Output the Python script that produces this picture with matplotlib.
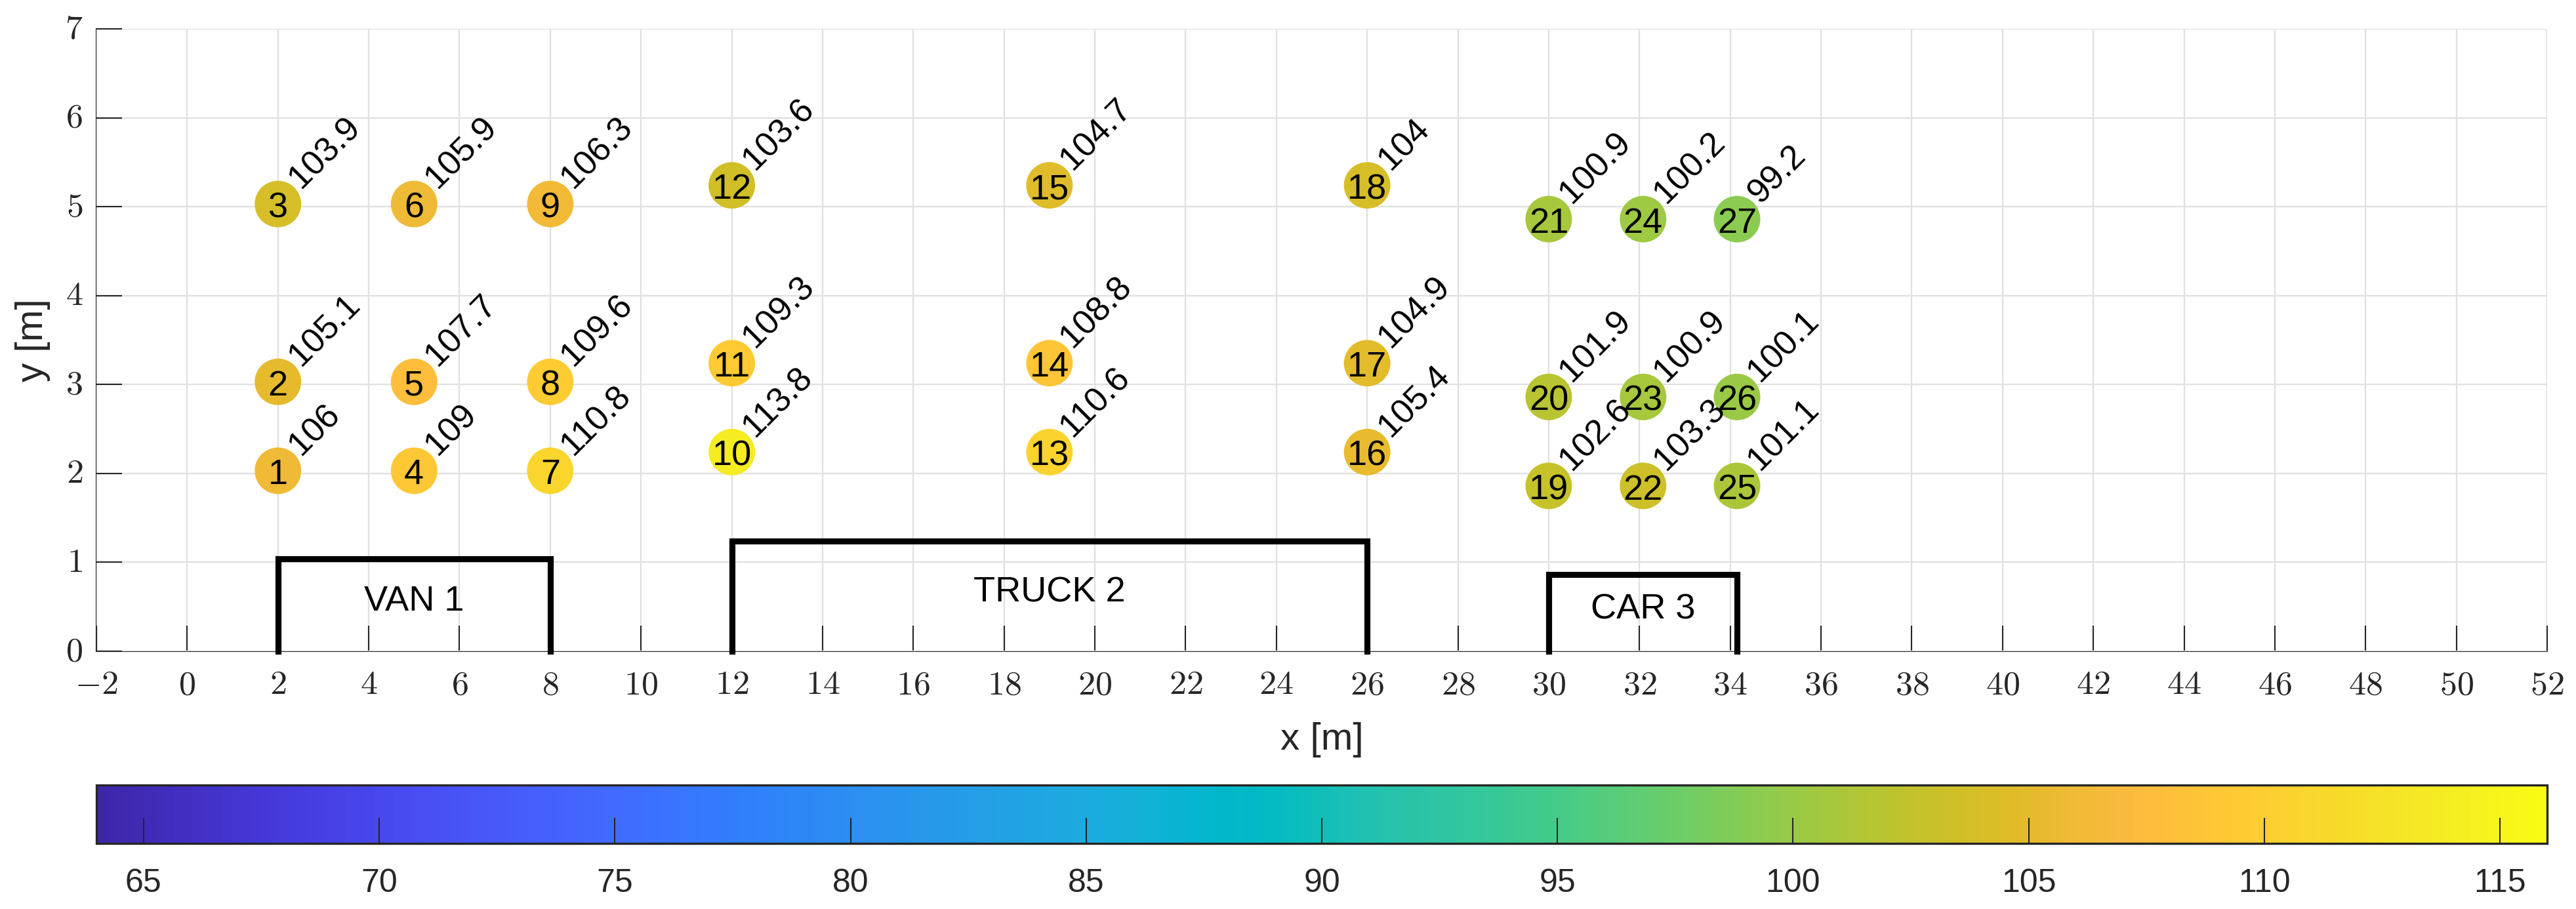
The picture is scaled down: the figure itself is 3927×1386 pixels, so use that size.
import numpy as np
import matplotlib
matplotlib.use("Agg")
import matplotlib.pyplot as plt
from matplotlib.colors import LinearSegmentedColormap, Normalize
from matplotlib.ticker import FuncFormatter
from matplotlib.transforms import ScaledTranslation

# ---------------- data ----------------
pt_x = [2, 2, 2, 5, 5, 5, 8, 8, 8,
        12, 12, 12, 19, 19, 19, 26, 26, 26,
        30, 30, 30, 32.08, 32.08, 32.08, 34.15, 34.15, 34.15]
pt_y = [2.03, 3.03, 5.03, 2.03, 3.03, 5.03, 2.03, 3.03, 5.03,
        2.24, 3.24, 5.24, 2.24, 3.24, 5.24, 2.24, 3.24, 5.24,
        1.86, 2.86, 4.86, 1.86, 2.86, 4.86, 1.86, 2.86, 4.86]
pt_id = list(range(1, 28))
pt_val = [106, 105.1, 103.9, 109, 107.7, 105.9, 110.8, 109.6, 106.3,
          113.8, 109.3, 103.6, 110.6, 108.8, 104.7, 105.4, 104.9, 104,
          102.6, 101.9, 100.9, 103.3, 100.9, 100.2, 101.1, 100.1, 99.2]

veh_name = ["VAN 1", "TRUCK 2", "CAR 3"]
veh_x0 = [2, 12, 30]
veh_x1 = [8, 26, 34.15]
veh_h = [1.04, 1.24, 0.86]

clim = (64, 116)
cbar_ticks = [65, 70, 75, 80, 85, 90, 95, 100, 105, 110, 115]
x_ticks = list(range(-2, 53, 2))
y_ticks = list(range(0, 8))

# ---------------- parula colormap ----------------
_parula = [
    [0.2422, 0.1504, 0.6603], [0.2504, 0.1650, 0.7076], [0.2578, 0.1818, 0.7511],
    [0.2647, 0.1978, 0.7952], [0.2706, 0.2147, 0.8364], [0.2751, 0.2342, 0.8710],
    [0.2783, 0.2559, 0.8991], [0.2803, 0.2782, 0.9221], [0.2813, 0.3006, 0.9414],
    [0.2810, 0.3228, 0.9579], [0.2795, 0.3447, 0.9717], [0.2760, 0.3667, 0.9829],
    [0.2699, 0.3892, 0.9906], [0.2602, 0.4123, 0.9952], [0.2440, 0.4358, 0.9988],
    [0.2206, 0.4603, 0.9973], [0.1963, 0.4847, 0.9892], [0.1834, 0.5074, 0.9798],
    [0.1786, 0.5289, 0.9682], [0.1764, 0.5499, 0.9520], [0.1687, 0.5703, 0.9359],
    [0.1540, 0.5902, 0.9218], [0.1460, 0.6091, 0.9079], [0.1380, 0.6276, 0.8973],
    [0.1248, 0.6459, 0.8883], [0.1113, 0.6635, 0.8763], [0.0952, 0.6798, 0.8598],
    [0.0689, 0.6948, 0.8394], [0.0297, 0.7082, 0.8163], [0.0036, 0.7203, 0.7917],
    [0.0067, 0.7312, 0.7660], [0.0433, 0.7411, 0.7394], [0.0964, 0.7500, 0.7120],
    [0.1408, 0.7584, 0.6842], [0.1717, 0.7670, 0.6554], [0.1938, 0.7758, 0.6251],
    [0.2161, 0.7843, 0.5923], [0.2470, 0.7918, 0.5567], [0.2906, 0.7973, 0.5188],
    [0.3406, 0.8008, 0.4789], [0.3909, 0.8029, 0.4354], [0.4456, 0.8024, 0.3909],
    [0.5044, 0.7993, 0.3480], [0.5616, 0.7942, 0.3045], [0.6174, 0.7876, 0.2612],
    [0.6720, 0.7793, 0.2227], [0.7242, 0.7698, 0.1910], [0.7738, 0.7598, 0.1646],
    [0.8203, 0.7498, 0.1535], [0.8634, 0.7406, 0.1596], [0.9035, 0.7330, 0.1774],
    [0.9393, 0.7288, 0.2100], [0.9728, 0.7298, 0.2394], [0.9956, 0.7434, 0.2371],
    [0.9970, 0.7659, 0.2199], [0.9952, 0.7893, 0.2028], [0.9892, 0.8136, 0.1885],
    [0.9786, 0.8386, 0.1766], [0.9676, 0.8639, 0.1643], [0.9610, 0.8890, 0.1537],
    [0.9597, 0.9135, 0.1423], [0.9628, 0.9373, 0.1265], [0.9691, 0.9606, 0.1064],
    [0.9769, 0.9839, 0.0805]]
parula = LinearSegmentedColormap.from_list("parula", _parula, N=256)

# ---------------- figure ----------------
plt.rcParams['mathtext.fontset'] = 'cm'
SANS = ['Liberation Sans', 'DejaVu Sans']
DARK = (0.15, 0.15, 0.15)
GRID = (0.88, 0.88, 0.88)

W, H = 3927, 1386
DPI = 300
fig = plt.figure(figsize=(W / DPI, H / DPI), dpi=DPI)
ax_l, ax_r, ax_t, ax_b = 147, 3883, 44, 993
ax = fig.add_axes([ax_l / W, 1 - ax_b / H, (ax_r - ax_l) / W, (ax_b - ax_t) / H])

ax.set_xlim(-2, 52)
ax.set_ylim(0, 7)
ax.set_xticks(x_ticks)
ax.set_yticks(y_ticks)
ax.xaxis.set_major_formatter(FuncFormatter(lambda v, p: r'$%g$' % v))
ax.yaxis.set_major_formatter(FuncFormatter(lambda v, p: r'$%g$' % v))
ax.tick_params(axis='both', direction='in', length=9.3, width=0.5, colors=DARK,
               labelsize=12.5)
ax.tick_params(axis='x', pad=6.3)
ax.tick_params(axis='y', pad=5)
ax.grid(True, color=GRID, lw=0.55)
ax.set_axisbelow(True)
for s in ['top', 'right']:
    ax.spines[s].set_visible(False)
for s in ['left', 'bottom']:
    ax.spines[s].set_color(DARK)
    ax.spines[s].set_linewidth(0.5)
    ax.spines[s].set_zorder(0.5)

# edge gridlines (MATLAB draws them at the limits)
ax.axhline(7, color=GRID, lw=0.55, zorder=0.4)
ax.axvline(52, color=GRID, lw=0.55, zorder=0.4)

# vehicles
for name, x0, x1, h in zip(veh_name, veh_x0, veh_x1, veh_h):
    ax.plot([x0, x0, x1, x1], [0, h, h, 0], color='black', lw=2.2,
            solid_joinstyle='miter', zorder=3, clip_on=False)
    ax.text((x0 + x1) / 2, h / 2 + 0.04, name, ha='center', va='center',
            fontsize=13, family=SANS, color='black', zorder=4)

# points
norm = Normalize(*clim)
sc = ax.scatter(pt_x, pt_y, c=pt_val, cmap=parula, norm=norm, s=290,
                edgecolors='none', zorder=5)
for x, y, i, v in zip(pt_x, pt_y, pt_id, pt_val):
    ax.annotate(str(i), xy=(x, y), xytext=(0, -1.6), textcoords='offset points',
                ha='center', va='center', fontsize=13,
                family=SANS, color='black', zorder=6)
    ax.annotate('%g' % v, xy=(x, y), xytext=(8.4, 5.3), textcoords='offset points',
                rotation=45, rotation_mode='anchor', ha='left', va='baseline',
                fontsize=12.5, family=SANS, color='black', zorder=6)

ax.set_xlabel('x [m]', fontsize=14, family=SANS, color=DARK)
ax.set_ylabel('y [m]', fontsize=14, family=SANS, color=DARK)
ax.xaxis.label.set_va('center')
ax.yaxis.label.set_va('center')
ax.xaxis.set_label_coords(0.5, (ax_b - 1128) / (ax_b - ax_t))
ax.yaxis.set_label_coords((50 - ax_l) / (ax_r - ax_l), 0.5)

# colorbar
cb_l, cb_r, cb_t, cb_b = 147, 3883, 1197, 1286
cax = fig.add_axes([cb_l / W, 1 - cb_b / H, (cb_r - cb_l) / W, (cb_b - cb_t) / H])
cb = fig.colorbar(sc, cax=cax, orientation='horizontal')
cb.set_ticks(cbar_ticks)
cb.set_ticklabels([str(t) for t in cbar_ticks])
cax.tick_params(axis='x', direction='in', length=9.3, width=0.5, colors=DARK,
                labelsize=12, pad=9, top=False, bottom=True)
for lab in cax.get_xticklabels():
    lab.set_family(SANS)
cb.outline.set_edgecolor(DARK)
cb.outline.set_linewidth(0.8)

# nudge y tick labels up slightly so they centre on their ticks
fig.canvas.draw()
shift = ScaledTranslation(0, 5 / DPI, fig.dpi_scale_trans)
for t in ax.yaxis.get_major_ticks():
    t.label1.set_transform(t.label1.get_transform() + shift)

fig.savefig('out.png', dpi=DPI)
